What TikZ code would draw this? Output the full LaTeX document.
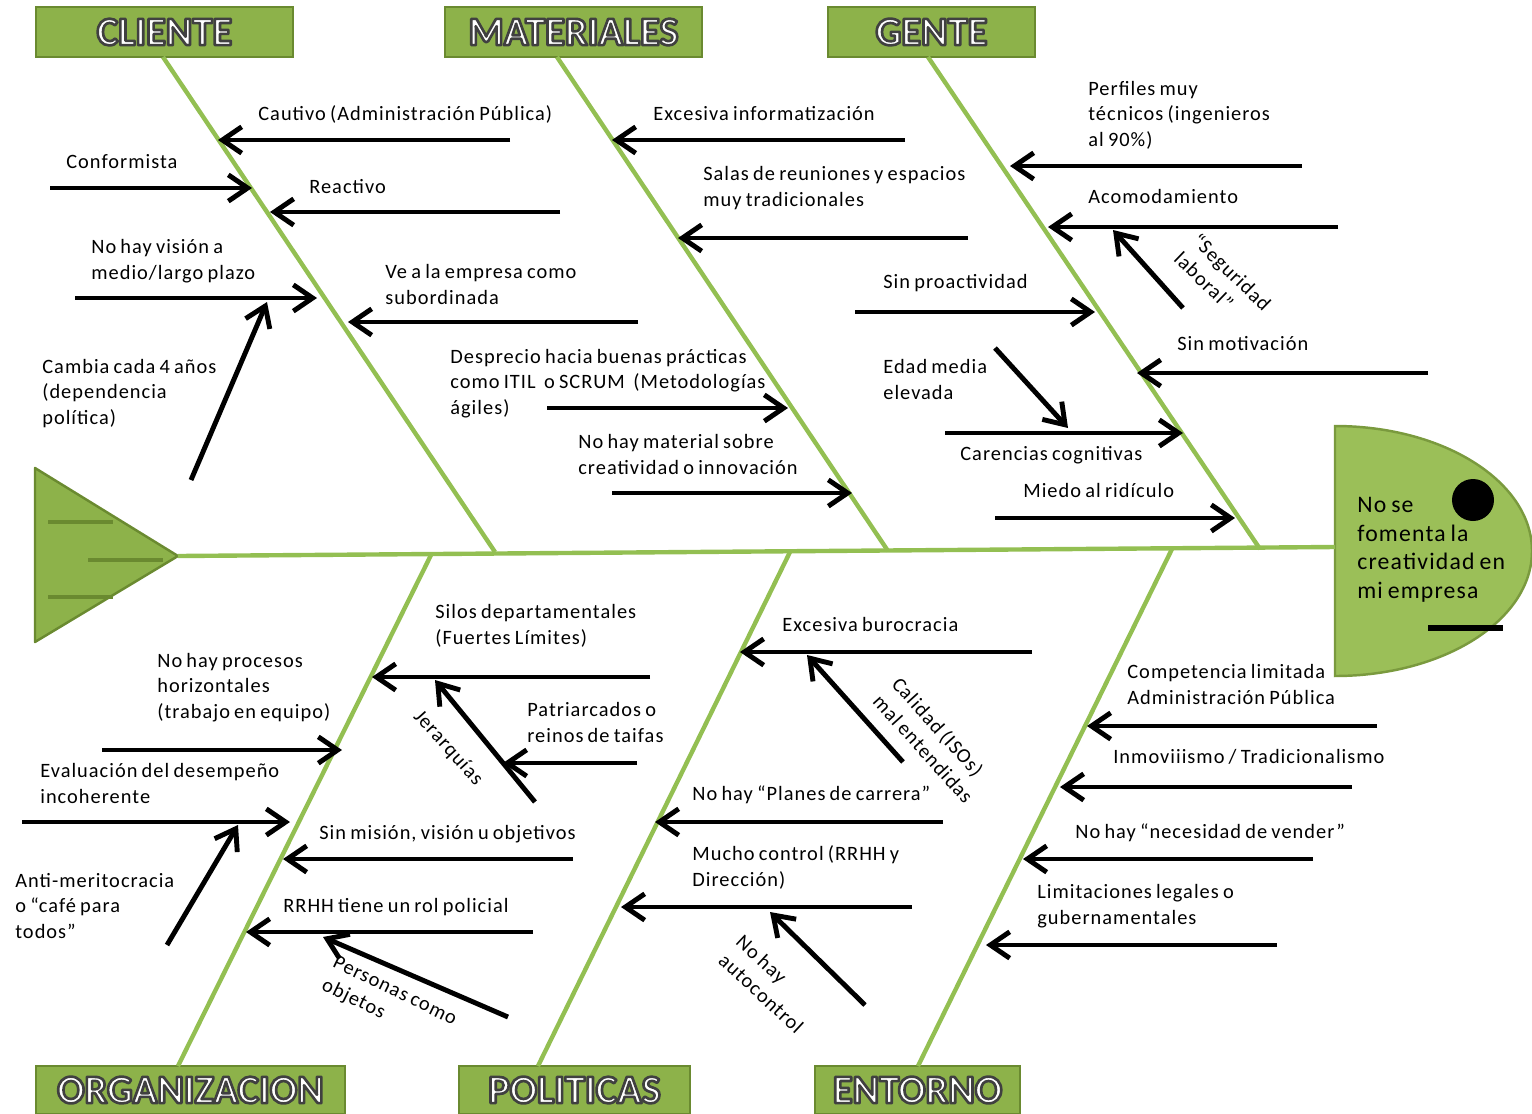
\documentclass[tikz,border=0pt]{standalone}
\usepackage{fontspec}
\setmainfont{Carlito}
\newfontfamily\lblfont[LetterSpace=5,WordSpace=0.75]{Carlito}
\newfontfamily\hdrfont{Carlito}
\usetikzlibrary{arrows.meta}

\definecolor{bonegreen}{HTML}{93BF52}
\definecolor{boxfill}{HTML}{8DB24A}
\definecolor{boxline}{HTML}{6A8A30}
\definecolor{headfill}{HTML}{9BBF58}
\definecolor{headline}{HTML}{7A9A3E}

% white heading letters with a dark stroked outline (text render mode 2)
\newcommand{\outlined}[1]{\textcolor{white}{%
  \special{pdf:literal direct 2 Tr 1.5 w 1 j 0.25 0.25 0.25 RG}#1%
  \special{pdf:literal direct 0 Tr}}}

\tikzset{
  hdr/.style={draw=boxline, fill=boxfill, line width=1.6pt, inner sep=0pt,
    minimum height=1cm, font=\hdrfont\bfseries\fontsize{23}{23}\selectfont},
  bone/.style={draw=bonegreen, line width=2.5pt},
  arr/.style={draw=black, line width=2.8pt,
    -{Straight Barb[length=11pt,width=15pt]}},
  lbl/.style={anchor=base west, align=left, inner sep=0pt, text=black,
    font=\lblfont\fontsize{11.6}{14.5}\selectfont},
  rlbl/.style={lbl, anchor=center},
  fin/.style={draw=boxline, line width=1.8pt},
}

\begin{document}
\begin{tikzpicture}[x=0.02cm, y=-0.02cm]
\useasboundingbox (0,0) rectangle (1532,1113);

% ---------- category boxes ----------
\node[hdr, minimum width=5.14cm] (cliente)    at (164.5,32)  {\outlined{CLIENTE}};
\node[hdr, minimum width=5.14cm] (materiales) at (573.5,32)  {\outlined{MATERIALES}};
\node[hdr, minimum width=4.14cm] (gente)      at (931.5,32)  {\outlined{GENTE}};
\node[hdr, minimum width=6.18cm, minimum height=0.96cm] (organizacion) at (190.5,1090) {\outlined{ORGANIZACION}};
\node[hdr, minimum width=4.62cm, minimum height=0.96cm] (politicas)    at (574.5,1090) {\outlined{POLITICAS}};
\node[hdr, minimum width=4.10cm, minimum height=0.96cm] (entorno)      at (917.5,1090) {\outlined{ENTORNO}};

% ---------- tail ----------
\coordinate (tailtip) at (178,556);
\filldraw[fill=boxfill, draw=boxline, line width=1.4pt, line join=round]
  (35,468) -- (tailtip) -- (35,642) -- cycle;
\draw[fin] (48,522) -- (113,522);
\draw[fin] (88,560) -- (163,560);
\draw[fin] (48,597) -- (113,597);

% ---------- head ----------
\coordinate (headL) at (1335,547);
\filldraw[fill=headfill, draw=headline, line width=1.4pt]
  (1335,426) .. controls (1444,426) and (1532,482) .. (1532,551)
  .. controls (1532,620) and (1444,676) .. (1335,676) -- cycle;
\fill[black] (1473,500) circle[radius=21];
\draw[black, line width=3pt] (1428,628) -- (1503,628);
\node[lbl, font=\lblfont\fontsize{13.5}{16.2}\selectfont] (problem) at (1357,598)
  {No se\\fomenta la\\creatividad en\\mi empresa};

% ---------- spine and bones ----------
\draw[bone] (tailtip) -- (headL);
\coordinate (bC) at (495,552);
\coordinate (bM) at (888,551);
\coordinate (bG) at (1260,549);
\coordinate (bO) at (432,553);
\coordinate (bP) at (790,552);
\coordinate (bE) at (1172,549);
\draw[bone] (163,57) coordinate (tC) -- (bC);
\draw[bone] (557,57) coordinate (tM) -- (bM);
\draw[bone] (928,57) coordinate (tG) -- (bG);
\draw[bone] (bO) -- (178,1066) coordinate (tO);
\draw[bone] (bP) -- (538,1066) coordinate (tP);
\draw[bone] (bE) -- (918,1066) coordinate (tE);

% ---------- CLIENTE ----------
\node[lbl] (l1) at (258,120) {Cautivo (Administración Pública)};
\node[lbl] (l2) at (66,168)  {Conformista};
\node[lbl] (l3) at (309,193) {Reactivo};
\node[lbl] (l4) at (91,279)  {No hay visión a\\medio/largo plazo};
\node[lbl] (l5) at (385,304) {Ve a la empresa como\\subordinada};
\node[lbl] (l6) at (42,424)  {Cambia cada 4 años\\(dependencia\\política)};
\coordinate (a1s) at (510,140); \coordinate (a1e) at (218,140);
\coordinate (a2s) at (50,188);  \coordinate (a2e) at (252,188);
\coordinate (a3s) at (560,212); \coordinate (a3e) at (270,212);
\coordinate (a4s) at (75,298);  \coordinate (a4e) at (317,298);
\coordinate (a5s) at (638,322); \coordinate (a5e) at (348,322);
\coordinate (a6s) at (191,480); \coordinate (a6e) at (267,302);
\foreach \i in {1,...,6} \draw[arr] (a\i s) -- (a\i e);

% ---------- MATERIALES ----------
\node[lbl] (l7)  at (653,120) {Excesiva informatización};
\node[lbl] (l8)  at (703,206) {Salas de reuniones y espacios\\muy tradicionales};
\node[lbl] (l9)  at (450,414) {Desprecio hacia buenas prácticas\\como ITIL~ o SCRUM~ (Metodologías\\ágiles)};
\node[lbl] (l10) at (578,474) {No hay material sobre\\creatividad o innovación};
\coordinate (a7s) at (905,140);  \coordinate (a7e) at (612,140);
\coordinate (a8s) at (968,238);  \coordinate (a8e) at (678,238);
\coordinate (a9s) at (547,408);  \coordinate (a9e) at (788,408);
\coordinate (a10s) at (612,493); \coordinate (a10e) at (852,493);
\foreach \i in {7,...,10} \draw[arr] (a\i s) -- (a\i e);

% ---------- GENTE ----------
\node[lbl] (l11) at (1088,146) {Perfiles muy\\técnicos (ingenieros\\al 90\%)};
\node[lbl] (l12) at (1088,203) {Acomodamiento};
\node[rlbl, rotate=-44] (l13) at (1223,281) {“Seguridad\\laboral”};
\node[lbl] (l14) at (883,288)  {Sin proactividad};
\node[lbl] (l15) at (1177,350) {Sin motivación};
\node[lbl] (l16) at (883,399)  {Edad media\\elevada};
\node[lbl] (l17) at (960,460)  {Carencias cognitivas};
\node[lbl] (l18) at (1023,497) {Miedo al ridículo};
\coordinate (a11s) at (1302,166); \coordinate (a11e) at (1010,166);
\coordinate (a12s) at (1338,227); \coordinate (a12e) at (1048,227);
\coordinate (a13s) at (1183,308); \coordinate (a13e) at (1113,230);
\coordinate (a14s) at (855,312);  \coordinate (a14e) at (1095,312);
\coordinate (a15s) at (1428,373); \coordinate (a15e) at (1137,373);
\coordinate (a16s) at (995,348);  \coordinate (a16e) at (1068,428);
\coordinate (a17s) at (945,433);  \coordinate (a17e) at (1183,433);
\coordinate (a18s) at (995,518);  \coordinate (a18e) at (1235,518);
\foreach \i in {11,...,18} \draw[arr] (a\i s) -- (a\i e);

% ---------- ORGANIZACION ----------
\node[lbl] (l19) at (435,644) {Silos departamentales\\(Fuertes Límites)};
\node[rlbl, rotate=-48] (l20) at (448,748) {Jerarquías};
\node[lbl] (l21) at (527,742) {Patriarcados o\\reinos de taifas};
\node[lbl] (l22) at (157,718) {No hay procesos\\horizontales\\(trabajo en equipo)};
\node[lbl] (l23) at (40,803)  {Evaluación del desempeño\\incoherente};
\node[lbl] (l24) at (319,839) {Sin misión, visión u objetivos};
\node[lbl] (l25) at (15,938)  {Anti-meritocracia\\o “café para\\todos”};
\node[lbl] (l26) at (283,912) {RRHH tiene un rol policial};
\node[rlbl, rotate=-26] (l27) at (389,1003) {Personas como\\objetos};
\coordinate (a19s) at (650,677); \coordinate (a19e) at (372,677);
\coordinate (a20s) at (535,802); \coordinate (a20e) at (435,680);
\coordinate (a21s) at (637,763); \coordinate (a21e) at (503,763);
\coordinate (a22s) at (102,750); \coordinate (a22e) at (342,750);
\coordinate (a23s) at (22,822);  \coordinate (a23e) at (290,822);
\coordinate (a24s) at (573,859); \coordinate (a24e) at (283,859);
\coordinate (a25s) at (167,945); \coordinate (a25e) at (238,825);
\coordinate (a26s) at (533,932); \coordinate (a26e) at (246,932);
\coordinate (a27s) at (508,1017); \coordinate (a27e) at (323,937);
\foreach \i in {19,...,27} \draw[arr] (a\i s) -- (a\i e);

% ---------- POLITICAS ----------
\node[lbl] (l28) at (782,631) {Excesiva burocracia};
\node[rlbl, rotate=-48] (l29) at (933,740) {Calidad (ISOs)\\mal entendidas};
\node[lbl] (l30) at (692,800) {No hay “Planes de carrera”};
\node[lbl] (l31) at (692,886) {Mucho control (RRHH y\\Dirección)};
\node[rlbl, rotate=-43] (l32) at (770,984) {No hay\\autocontrol};
\coordinate (a28s) at (1032,652); \coordinate (a28e) at (740,652);
\coordinate (a29s) at (903,762);  \coordinate (a29e) at (807,655);
\coordinate (a30s) at (943,822);  \coordinate (a30e) at (655,822);
\coordinate (a31s) at (912,907);  \coordinate (a31e) at (621,907);
\coordinate (a32s) at (865,1005); \coordinate (a32e) at (770,912);
\foreach \i in {28,...,32} \draw[arr] (a\i s) -- (a\i e);

% ---------- ENTORNO ----------
\node[lbl] (l33) at (1127,704) {Competencia limitada\\Administración Pública};
\node[lbl] (l34) at (1113,763) {Inmoviiismo / Tradicionalismo};
\node[lbl] (l35) at (1075,838) {No hay “necesidad de vender”};
\node[lbl] (l36) at (1037,924) {Limitaciones legales o\\gubernamentales};
\coordinate (a33s) at (1377,726); \coordinate (a33e) at (1087,726);
\coordinate (a34s) at (1352,787); \coordinate (a34e) at (1060,787);
\coordinate (a35s) at (1313,859); \coordinate (a35e) at (1023,859);
\coordinate (a36s) at (1277,945); \coordinate (a36e) at (986,945);
\foreach \i in {33,...,36} \draw[arr] (a\i s) -- (a\i e);
\end{tikzpicture}
\end{document}
